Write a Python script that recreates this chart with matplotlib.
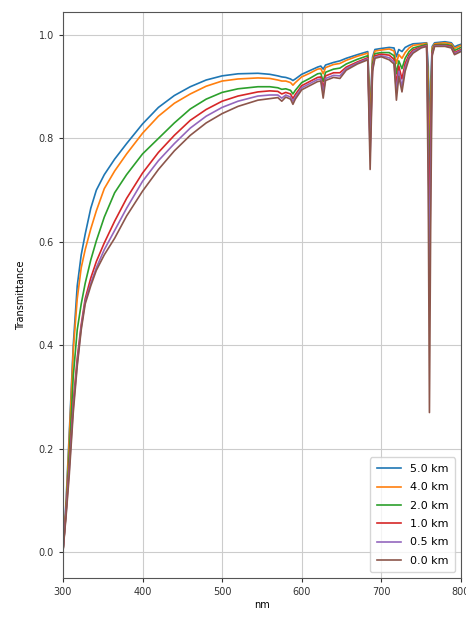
import matplotlib
matplotlib.use("Agg")
import matplotlib.pyplot as plt

# wavelength grid (nm) shared by all altitude curves
nm = [300, 304, 308, 313, 318, 323, 328, 335, 342, 352, 365, 380, 400, 420, 440,
      460, 480, 500, 520, 545, 560, 570, 575, 580, 586, 589, 592, 600, 610, 620,
      624, 627, 630, 640, 648, 656, 670, 683, 686, 689, 692, 700, 710, 716, 719,
      722, 726, 730, 735, 740, 750, 757, 759, 760.5, 762, 764, 767, 780, 788, 792,
      796, 800]

t_5km = [0.0, 0.10, 0.23, 0.40, 0.515, 0.575, 0.615, 0.665, 0.700, 0.730, 0.760,
         0.790, 0.828, 0.860, 0.883, 0.900, 0.913, 0.921, 0.925, 0.926, 0.924,
         0.921, 0.919, 0.918, 0.915, 0.912, 0.915, 0.924, 0.931, 0.938, 0.940,
         0.934, 0.942, 0.947, 0.950, 0.955, 0.962, 0.968, 0.86, 0.957, 0.972,
         0.974, 0.976, 0.975, 0.958, 0.972, 0.968, 0.976, 0.980, 0.983, 0.984,
         0.985, 0.94, 0.77, 0.91, 0.978, 0.985, 0.987, 0.985, 0.977, 0.980, 0.982]
t_4km = [0.0, 0.09, 0.22, 0.39, 0.49, 0.55, 0.585, 0.625, 0.66, 0.703, 0.737,
         0.770, 0.810, 0.843, 0.868, 0.886, 0.901, 0.911, 0.915, 0.917, 0.916,
         0.913, 0.911, 0.911, 0.908, 0.903, 0.908, 0.919, 0.926, 0.934, 0.935,
         0.925, 0.937, 0.943, 0.945, 0.951, 0.959, 0.965, 0.84, 0.952, 0.969,
         0.971, 0.973, 0.969, 0.945, 0.962, 0.955, 0.966, 0.975, 0.980, 0.982,
         0.984, 0.91, 0.70, 0.87, 0.975, 0.983, 0.985, 0.983, 0.974, 0.977, 0.980]
t_2km = [0.0, 0.08, 0.19, 0.34, 0.43, 0.48, 0.52, 0.565, 0.602, 0.648, 0.695,
         0.730, 0.770, 0.800, 0.830, 0.857, 0.876, 0.889, 0.896, 0.900, 0.900,
         0.898, 0.895, 0.896, 0.893, 0.886, 0.893, 0.908, 0.916, 0.925, 0.926,
         0.910, 0.928, 0.934, 0.936, 0.944, 0.953, 0.960, 0.81, 0.944, 0.964,
         0.966, 0.966, 0.96, 0.925, 0.95, 0.935, 0.955, 0.968, 0.975, 0.979,
         0.982, 0.87, 0.64, 0.82, 0.97, 0.981, 0.982, 0.98, 0.970, 0.973, 0.976]
t_1km = [0.0, 0.08, 0.17, 0.29, 0.375, 0.44, 0.49, 0.53, 0.562, 0.598, 0.64,
         0.684, 0.733, 0.773, 0.806, 0.835, 0.856, 0.872, 0.882, 0.890, 0.892,
         0.891, 0.886, 0.889, 0.886, 0.877, 0.885, 0.902, 0.910, 0.918, 0.919,
         0.898, 0.921, 0.927, 0.927, 0.938, 0.948, 0.956, 0.79, 0.938, 0.960,
         0.963, 0.961, 0.953, 0.905, 0.94, 0.915, 0.945, 0.962, 0.971, 0.977,
         0.980, 0.83, 0.58, 0.78, 0.966, 0.980, 0.980, 0.978, 0.966, 0.969, 0.972]
t_05km = [0.0, 0.075, 0.16, 0.28, 0.365, 0.435, 0.485, 0.52, 0.55, 0.585, 0.622,
          0.665, 0.717, 0.757, 0.790, 0.820, 0.843, 0.860, 0.872, 0.882, 0.884,
          0.884, 0.878, 0.884, 0.880, 0.872, 0.880, 0.898, 0.906, 0.914, 0.915,
          0.888, 0.916, 0.922, 0.921, 0.935, 0.946, 0.954, 0.77, 0.934, 0.957,
          0.960, 0.956, 0.948, 0.89, 0.93, 0.90, 0.937, 0.958, 0.968, 0.976,
          0.979, 0.78, 0.50, 0.72, 0.963, 0.979, 0.979, 0.976, 0.964, 0.967, 0.970]
t_0km = [0.0, 0.07, 0.15, 0.27, 0.36, 0.43, 0.48, 0.515, 0.545, 0.575, 0.607,
         0.65, 0.698, 0.740, 0.776, 0.806, 0.830, 0.848, 0.862, 0.874, 0.877,
         0.879, 0.872, 0.880, 0.876, 0.866, 0.876, 0.894, 0.902, 0.910, 0.911,
         0.878, 0.912, 0.918, 0.916, 0.932, 0.944, 0.952, 0.74, 0.93, 0.955,
         0.958, 0.952, 0.944, 0.874, 0.92, 0.89, 0.93, 0.955, 0.965, 0.975,
         0.978, 0.70, 0.27, 0.62, 0.96, 0.978, 0.978, 0.975, 0.962, 0.965, 0.968]

labels = ["5.0 km", "4.0 km", "2.0 km", "1.0 km", "0.5 km", "0.0 km"]
curves = [t_5km, t_4km, t_2km, t_1km, t_05km, t_0km]

fig = plt.figure(figsize=(4.66, 6.18), dpi=100)
ax = fig.add_axes([0.135, 0.0647, 0.854, 0.9163])

for t, lab in zip(curves, labels):
    ax.plot(nm, t, linewidth=1.2, label=lab)

ax.set_xlim(300, 800)
ax.set_ylim(-0.05, 1.045)
ax.set_xticks([300, 400, 500, 600, 700, 800])
ax.set_yticks([0.0, 0.2, 0.4, 0.6, 0.8, 1.0])
ax.grid(True, color="#cccccc", linewidth=0.8)
ax.tick_params(labelsize=7, colors="#333333", length=3)
for s in ax.spines.values():
    s.set_color("#555555")

ax.set_xlabel("nm", fontsize=7, labelpad=2)
ax.set_ylabel("Transmittance", fontsize=7, labelpad=9)
ax.legend(loc="lower right", fontsize=8, handlelength=2.2, borderpad=0.6,
          labelspacing=0.75)

plt.savefig("out.png", dpi=100)
